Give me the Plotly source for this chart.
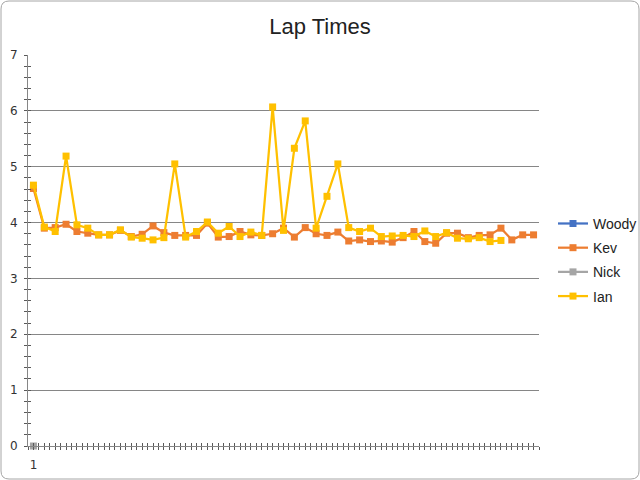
import plotly.graph_objects as go

# ---------------- data ----------------
categories = list(range(1, 48))
woody = [None] * 47
kev = [4.61, 3.90, 3.91, 3.97, 3.84, 3.81, 3.78, 3.78, 3.86, 3.75,
       3.79, 3.94, 3.82, 3.77, 3.77, 3.77, 3.99, 3.74, 3.75, 3.84,
       3.78, 3.77, 3.80, 3.90, 3.74, 3.91, 3.80, 3.77, 3.83, 3.67,
       3.69, 3.66, 3.67, 3.65, 3.73, 3.84, 3.66, 3.63, 3.81, 3.81,
       3.73, 3.77, 3.78, 3.90, 3.69, 3.78, 3.78]
nick = [0] + [None] * 46
ian = [4.67, 3.92, 3.84, 5.19, 3.96, 3.90, 3.78, 3.78, 3.87, 3.74,
       3.72, 3.69, 3.73, 5.05, 3.74, 3.84, 4.01, 3.81, 3.93, 3.75,
       3.83, 3.77, 6.07, 3.86, 5.33, 5.82, 3.90, 4.47, 5.05, 3.91,
       3.84, 3.90, 3.75, 3.76, 3.77, 3.75, 3.85, 3.75, 3.82, 3.72,
       3.71, 3.73, 3.66, 3.68] + [None] * 3
x_labels = {1: "1"}
y_ticks = list(range(0, 8))

series = [("Woody", woody, "#4472C4"),
          ("Kev", kev, "#ED7D31"),
          ("Nick", nick, "#A5A5A5"),
          ("Ian", ian, "#FFC000")]

fig = go.Figure()
for name, vals, col in series:
    fig.add_trace(go.Scatter(
        x=categories, y=vals, name=name, legendgroup=name, mode="lines+markers",
        line=dict(color=col, width=2.25),
        marker=dict(symbol="square", size=7, color=col),
        connectgaps=False, cliponaxis=False))

# dummy traces to activate overlay axes (cross tick marks, gridlines)
fig.add_trace(go.Scatter(x=[None], y=[None], xaxis="x2", yaxis="y2",
                         showlegend=False, hoverinfo="skip"))
fig.add_trace(go.Scatter(x=[None], y=[None], yaxis="y3", showlegend=False,
                         hoverinfo="skip"))

n = len(categories)
x_tickvals = [i * 0.5 + 0.5 for i in range(2 * n + 1)]
x_ticktext = [x_labels.get(v, "") if float(v).is_integer() else "" for v in x_tickvals]
y_minor = [round(i * 0.2, 2) for i in range(0, 36)]
y_ticktext = [str(int(v)) if abs(v - round(v)) < 1e-9 else "" for v in y_minor]

axis_col = "#868686"
tick_col = "#595959"
fig.update_layout(
    width=640, height=480,
    margin=dict(l=28, r=101, t=55, b=34, autoexpand=False),
    paper_bgcolor="white", plot_bgcolor="white",
    title=dict(text="Lap Times", x=0.5, xref="container", xanchor="center",
               y=1 - 26 / 480, yref="container", yanchor="middle",
               font=dict(family="Liberation Sans, Arial", size=22, color="#222222")),
    xaxis=dict(range=[0.5, n + 0.5], tickmode="array", tickvals=x_tickvals,
               ticktext=x_ticktext, ticks="outside", ticklen=3, tickcolor=tick_col,
               automargin=False, ticklabelstandoff=5,
               showgrid=False, zeroline=False, showline=True, linecolor=axis_col,
               linewidth=1, tickfont=dict(family="DejaVu Sans", size=12, color="#333333")),
    xaxis2=dict(range=[0.5, n + 0.5], overlaying="x", matches="x", tickmode="array",
                tickvals=x_tickvals, ticks="inside", ticklen=3, tickcolor=tick_col,
                automargin=False,
                showticklabels=False, showgrid=False, zeroline=False, showline=False),
    yaxis=dict(range=[0, 7], tickmode="array", tickvals=y_minor, ticktext=y_ticktext,
               ticks="outside", ticklen=3, tickcolor=tick_col, automargin=False,
               ticklabelstandoff=4,
               showgrid=False, zeroline=False, showline=True, linecolor=axis_col,
               linewidth=1, tickfont=dict(family="DejaVu Sans", size=12, color="#333333")),
    yaxis2=dict(range=[0, 7], overlaying="y", matches="y", tickmode="array",
                tickvals=y_minor, ticks="inside", ticklen=3, tickcolor=tick_col,
                automargin=False,
                showticklabels=False, showgrid=False, zeroline=False, showline=False),
    yaxis3=dict(range=[0, 7], overlaying="y", matches="y", tickmode="array",
                tickvals=y_ticks, showticklabels=False, showgrid=True, automargin=False,
                gridcolor=axis_col, gridwidth=1, zeroline=False, showline=False,
                layer="below traces"),
    legend=dict(x=(553 - 28) / 511, xanchor="left", y=0.476, yanchor="middle",
                font=dict(family="Liberation Sans, Arial", size=14, color="#222222"),
                tracegroupgap=3, itemwidth=30, bgcolor="rgba(0,0,0,0)"),
    showlegend=True,
)

# rounded chart-area border
L, T, PW, PH = 28, 55, 511, 391
def px(xp):
    return (xp - L) / PW
def py(yp):
    return (T + PH - yp) / PH
r = 8
x0, x1, y0, y1 = 1, 639, 1, 479
path = (f"M {px(x0 + r)},{py(y0)} L {px(x1 - r)},{py(y0)} "
        f"Q {px(x1)},{py(y0)} {px(x1)},{py(y0 + r)} L {px(x1)},{py(y1 - r)} "
        f"Q {px(x1)},{py(y1)} {px(x1 - r)},{py(y1)} L {px(x0 + r)},{py(y1)} "
        f"Q {px(x0)},{py(y1)} {px(x0)},{py(y1 - r)} L {px(x0)},{py(y0 + r)} "
        f"Q {px(x0)},{py(y0)} {px(x0 + r)},{py(y0)} Z")
fig.add_shape(type="path", path=path, xref="paper", yref="paper",
              line=dict(color="#A6A6A6", width=1), layer="below")

fig.write_html("out.html", config={"displayModeBar": False},
               post_script="document.body.style.margin='0';"
                           "document.body.style.overflow='hidden';")
